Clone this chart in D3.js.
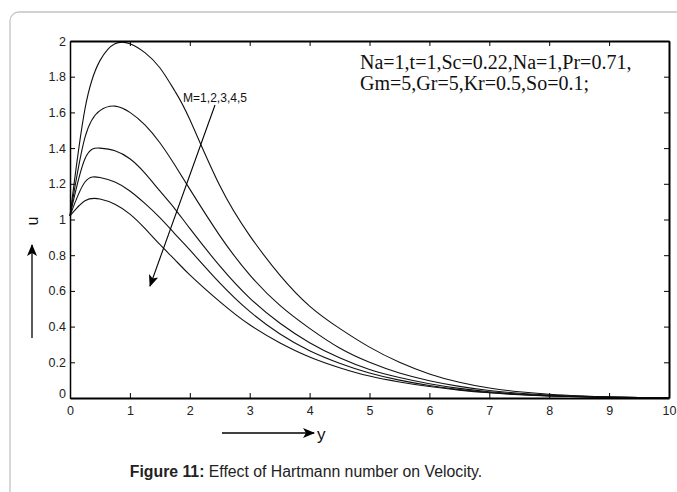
<!DOCTYPE html>
<html><head><meta charset="utf-8">
<script src="https://cdn.jsdelivr.net/npm/d3@7"></script>
<style>html,body{margin:0;padding:0;background:#fff;}svg{display:block;}</style>
</head><body>
<svg id="c" width="677" height="492"></svg>
<script>
const xs = [0,0.25,0.5,0.75,1,1.25,1.5,1.75,2,2.5,3,3.5,4,4.5,5,5.5,6,6.5,7,7.5,8,8.5,9,9.5,10];
const uM1 = [1.02,1.62,1.89,1.985,1.985,1.935,1.85,1.72,1.56,1.19,0.91,0.69,0.515,0.39,0.285,0.2,0.135,0.088,0.056,0.035,0.021,0.012,0.006,0.003,0.001];
const uM2 = [1.02,1.46,1.61,1.635,1.6,1.53,1.43,1.305,1.17,0.91,0.69,0.52,0.39,0.28,0.2,0.14,0.097,0.065,0.042,0.027,0.016,0.009,0.005,0.002,0.001];
const uM3 = [1.02,1.34,1.40,1.385,1.34,1.26,1.16,1.06,0.95,0.74,0.56,0.42,0.31,0.225,0.16,0.115,0.08,0.054,0.035,0.022,0.013,0.008,0.004,0.002,0.001];
const uM4 = [1.02,1.21,1.235,1.21,1.16,1.09,1.01,0.92,0.83,0.645,0.485,0.36,0.265,0.195,0.14,0.1,0.07,0.047,0.031,0.02,0.012,0.007,0.004,0.002,0.001];
const uM5 = [1.02,1.105,1.115,1.085,1.03,0.95,0.86,0.775,0.69,0.54,0.41,0.31,0.23,0.17,0.123,0.09,0.064,0.044,0.029,0.018,0.011,0.007,0.004,0.002,0.001];
const series = [uM1,uM2,uM3,uM4,uM5];
const xTicks = [0,1,2,3,4,5,6,7,8,9,10];
const yTicks = [0,0.2,0.4,0.6,0.8,1,1.2,1.4,1.6,1.8,2];
const paramLines = ["Na=1,t=1,Sc=0.22,Na=1,Pr=0.71,","Gm=5,Gr=5,Kr=0.5,So=0.1;"];
const mLabel = "M=1,2,3,4,5";

const svg = d3.select("#c");
const L=70,R=669,T=41,B=398;
const x = d3.scaleLinear().domain([0,10]).range([L,R]);
const y = d3.scaleLinear().domain([0,2]).range([B,T]);

// outer frame
svg.append("rect").attr("x",10).attr("y",12).attr("width",700).attr("height",520)
  .attr("rx",9).attr("fill","none").attr("stroke","#c4c4c4").attr("stroke-width",1.3);

const defs = svg.append("defs");
defs.append("marker").attr("id","ah").attr("viewBox","0 0 12 10").attr("refX",11).attr("refY",5)
  .attr("markerWidth",12).attr("markerHeight",10).attr("markerUnits","userSpaceOnUse").attr("orient","auto")
  .append("path").attr("d","M0,0 L12,5 L0,10 L3,5 Z").attr("fill","#000");

// curves
const line = d3.line().x((d,i)=>x(xs[i])).y(d=>y(d)).curve(d3.curveNatural);
svg.append("g").selectAll("path").data(series).join("path")
  .attr("d",d=>line(d)).attr("fill","none").attr("stroke","#111").attr("stroke-width",1.1);

// axes
const fontAx = "'Liberation Sans', Arial, sans-serif";
const gB = svg.append("g").attr("transform",`translate(0,${B})`)
  .call(d3.axisBottom(x).tickValues(xTicks).tickSizeInner(-5).tickSizeOuter(0).tickPadding(8).tickFormat(d3.format("d")));
const gL = svg.append("g").attr("transform",`translate(${L},0)`)
  .call(d3.axisLeft(y).tickValues(yTicks).tickSizeInner(-5).tickSizeOuter(0).tickPadding(4).tickFormat(d=>d3.format("")(+d.toFixed(1))));
const gT = svg.append("g").attr("transform",`translate(0,${T})`)
  .call(d3.axisTop(x).tickValues(xTicks).tickSizeInner(-5).tickSizeOuter(0).tickFormat(""));
const gR = svg.append("g").attr("transform",`translate(${R},0)`)
  .call(d3.axisRight(y).tickValues(yTicks).tickSizeInner(-5).tickSizeOuter(0).tickFormat(""));
[gB,gL,gT,gR].forEach(g=>{
  g.selectAll("path.domain").attr("stroke","#000").attr("stroke-width",2);
  g.selectAll(".tick line").attr("stroke","#000").attr("stroke-width",1);
  g.selectAll("text").attr("font-family",fontAx).attr("font-size",12.5).attr("fill","#222");
});
gL.selectAll("path.domain").attr("stroke-width",1.5);
gL.selectAll(".tick text").filter(d=>d===0).attr("dy","-0.05em");

// u label and arrow
svg.append("text").attr("transform","translate(38,221) rotate(-90)").attr("text-anchor","middle")
  .attr("font-family",fontAx).attr("font-size",16).attr("fill","#111").text("u");
svg.append("line").attr("x1",32).attr("y1",338).attr("x2",32).attr("y2",245)
  .attr("stroke","#000").attr("stroke-width",1.3).attr("marker-end","url(#ah)");

// y label and arrow
svg.append("line").attr("x1",222).attr("y1",433).attr("x2",314).attr("y2",433)
  .attr("stroke","#000").attr("stroke-width",1.3).attr("marker-end","url(#ah)");
svg.append("text").attr("x",317).attr("y",440).attr("font-family",fontAx).attr("font-size",17).attr("fill","#111").text("y");

// parameter text
svg.append("g").selectAll("text").data(paramLines).join("text")
  .attr("x",360).attr("y",(d,i)=>69+i*21).attr("font-family","'Liberation Serif','Times New Roman',serif")
  .attr("font-size",20).attr("fill","#111").text(d=>d);

// M label and arrow
svg.append("text").attr("x",183).attr("y",102).attr("font-family",fontAx).attr("font-size",13)
  .attr("fill","#111").attr("textLength",64).attr("lengthAdjust","spacingAndGlyphs").text(mLabel);
svg.append("line").attr("x1",215).attr("y1",105).attr("x2",150).attr("y2",286)
  .attr("stroke","#000").attr("stroke-width",1.1).attr("marker-end","url(#ah)");

// caption
const cap = svg.append("text").attr("x",306).attr("y",477).attr("text-anchor","middle")
  .attr("font-family",fontAx).attr("font-size",15.8).attr("fill","#222");
cap.append("tspan").attr("font-weight","bold").text("Figure 11:");
cap.append("tspan").text(" Effect of Hartmann number on Velocity.");
</script>
</body></html>
